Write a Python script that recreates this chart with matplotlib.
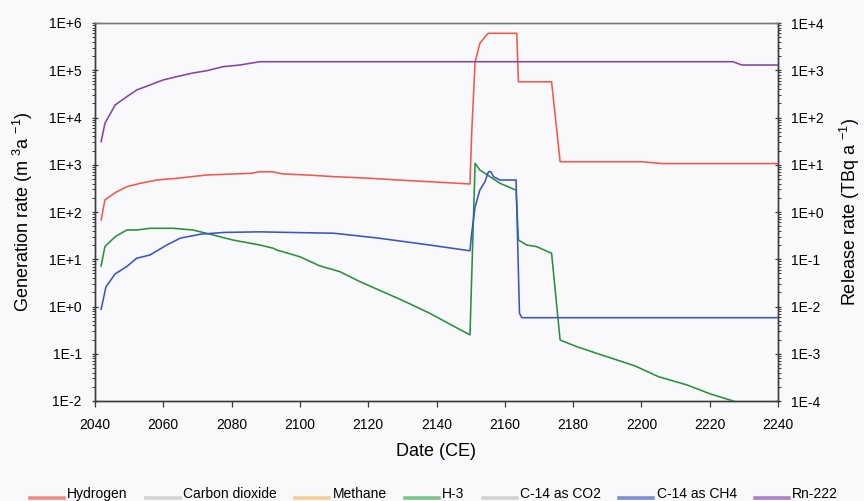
import matplotlib
matplotlib.use("Agg")
import matplotlib.pyplot as plt
from matplotlib.ticker import FixedLocator, FuncFormatter, LogLocator, NullFormatter
from matplotlib.lines import Line2D
from matplotlib.legend_handler import HandlerLine2D
import numpy as np

plt.rcParams['font.family'] = ['Liberation Sans', 'DejaVu Sans']
plt.rcParams['mathtext.fontset'] = 'custom'
plt.rcParams['mathtext.rm'] = 'Liberation Sans'
plt.rcParams['mathtext.it'] = 'Liberation Sans'
plt.rcParams['mathtext.bf'] = 'Liberation Sans'

# ---------------- data ----------------
# Hydrogen generation rate (m3/a)
h2_year = [2041.8, 2042.9, 2045.9, 2049.3, 2053.2, 2058.1, 2063.9, 2072.7, 2086.0, 2088.0,
           2092.0, 2095.0, 2102.0, 2110.0, 2120.0, 2130.0, 2138.0, 2149.8, 2150.3, 2151.3,
           2152.7, 2154.2, 2155.2, 2163.5, 2164.0, 2173.7, 2176.2, 2200.0, 2206.0, 2240.0]
h2_rate = [68, 180, 256, 343, 404, 475, 516, 607, 660, 710,
           710, 640, 607, 560, 520, 470, 437, 392, 4600, 1.5e5,
           3.7e5, 5.1e5, 6.05e5, 6.05e5, 5.7e4, 5.7e4, 1160, 1160, 1060, 1060]

# H-3 release rate (TBq/a)
h3_year = [2041.8, 2042.9, 2045.9, 2049.3, 2052.2, 2056.1, 2062.9, 2068.7, 2074.6, 2080.4,
           2088.3, 2092.2, 2093.2, 2100.0, 2105.9, 2111.7, 2117.6, 2130.0, 2138.0, 2149.8,
           2151.3, 2152.7, 2155.7, 2158.6, 2162.0, 2163.3, 2164.0, 2166.4, 2169.3, 2173.7,
           2176.2, 2181.1, 2186.9, 2192.8, 2198.2, 2205.0, 2213.3, 2220.2, 2226.9, 2230.0]
h3_rate = [0.072, 0.185, 0.30, 0.416, 0.416, 0.452, 0.452, 0.416, 0.326, 0.255,
           0.20, 0.171, 0.157, 0.113, 0.072, 0.0546, 0.0335, 0.0135, 0.0072, 0.0025,
           10.7, 7.74, 5.58, 4.05, 3.17, 2.92, 0.255, 0.20, 0.185, 0.134,
           0.00195, 0.00141, 0.00102, 0.00074, 0.00055, 0.000327, 0.000219, 0.000141, 0.0001, 0.00008]

# C-14 as CH4 release rate (TBq/a)
c14ch4_year = [2041.8, 2043.2, 2045.9, 2049.3, 2052.2, 2056.1, 2061.0, 2065.0, 2071.0, 2078.0,
               2088.0, 2110.0, 2123.0, 2138.0, 2149.8, 2150.3, 2151.3, 2152.7, 2154.2, 2155.2,
               2155.9, 2156.7, 2158.6, 2163.3, 2164.3, 2165.0, 2240.0]
c14ch4_rate = [0.0087, 0.026, 0.049, 0.070, 0.105, 0.123, 0.20, 0.28, 0.34, 0.37,
               0.38, 0.355, 0.28, 0.20, 0.151, 0.354, 1.29, 2.92, 4.38, 7.13,
               7.13, 5.58, 4.75, 4.75, 0.0072, 0.0058, 0.0058]

# Rn-222 release rate (TBq/a)
rn_year = [2041.8, 2042.9, 2045.9, 2049.3, 2052.2, 2056.1, 2059.9, 2063.9, 2068.7, 2072.7,
           2077.5, 2082.4, 2088.3, 2226.8, 2229.4, 2240.0]
rn_rate = [30.8, 75, 184, 275, 382, 488, 622, 731, 875, 977,
           1190, 1290, 1517, 1517, 1290, 1290]

legend_labels = ["Hydrogen", "Carbon dioxide", "Methane", "H-3", "C-14 as CO2", "C-14 as CH4", "Rn-222"]
line_colors = ["#f4574b", "#c8c8c8", "#f5b768", "#27913a", "#c8c8c8", "#3a55c4", "#8443a8"]
legend_colors = ["#f28a84", "#d4d4d4", "#f8cc98", "#7cc58a", "#d4d4d4", "#7d8fd6", "#ab82c8"]

left_ticks = [1e-2, 1e-1, 1e0, 1e1, 1e2, 1e3, 1e4, 1e5, 1e6]
right_ticks = [1e-4, 1e-3, 1e-2, 1e-1, 1e0, 1e1, 1e2, 1e3, 1e4]
x_ticks = list(range(2040, 2241, 20))

# ---------------- figure ----------------
bg = "#f9f9fc"
fig = plt.figure(figsize=(8.64, 5.01), dpi=100, facecolor=bg)
ax = fig.add_axes([95/864, 1-401/501, (778-95)/864, (401-23)/501])
ax.set_facecolor(bg)
ax2 = ax.twinx()

def efmt(v, pos=None):
    e = int(round(np.log10(v)))
    return "1E%s%d" % ("+" if e >= 0 else "-", abs(e))

lw = 1.15
ax.plot(h2_year, h2_rate, color=line_colors[0], lw=lw, zorder=3)
ax2.plot(h3_year, h3_rate, color=line_colors[3], lw=lw, zorder=3)
ax2.plot(c14ch4_year, c14ch4_rate, color=line_colors[5], lw=lw, zorder=3)
ax2.plot(rn_year, rn_rate, color=line_colors[6], lw=lw, zorder=3)

ax.set_xlim(2040, 2240)
ax.set_yscale('log')
ax.set_ylim(1e-2, 1e6)
ax2.set_yscale('log')
ax2.set_ylim(1e-4, 1e4)

ax.xaxis.set_major_locator(FixedLocator(x_ticks))
ax.yaxis.set_major_locator(FixedLocator(left_ticks))
ax.yaxis.set_major_formatter(FuncFormatter(efmt))
ax.yaxis.set_minor_locator(LogLocator(base=10, subs=np.arange(2, 10), numticks=20))
ax.yaxis.set_minor_formatter(NullFormatter())
ax2.yaxis.set_major_locator(FixedLocator(right_ticks))
ax2.yaxis.set_major_formatter(FuncFormatter(efmt))
ax2.yaxis.set_minor_locator(LogLocator(base=10, subs=np.arange(2, 10), numticks=20))
ax2.yaxis.set_minor_formatter(NullFormatter())

spine_col = "#3c3c3c"
for a in (ax, ax2):
    for s in ['left', 'right', 'bottom']:
        a.spines[s].set_color(spine_col)
        a.spines[s].set_linewidth(1.0)
    a.spines['top'].set_color("#7a7a7a")
    a.spines['top'].set_linewidth(1.0)

ax.tick_params(axis='y', which='major', direction='inout', length=5, width=0.9,
               color=spine_col, labelsize=10, pad=7)
ax.tick_params(axis='y', which='minor', direction='out', length=2.2, width=0.7, color=spine_col)
ax2.tick_params(axis='y', which='major', direction='inout', length=5, width=0.9,
                color=spine_col, labelsize=10, pad=7)
ax2.tick_params(axis='y', which='minor', direction='out', length=2.2, width=0.7, color=spine_col)
ax.tick_params(axis='x', which='major', direction='out', length=4, width=0.9,
               color=spine_col, labelsize=10, pad=8)

ax.set_xlabel("Date (CE)", fontsize=13, labelpad=8)
ax.set_ylabel(r"Generation rate (m $^{3}$a $^{-1}$)", fontsize=13, labelpad=10)
ax2.set_ylabel(r"Release rate (TBq a $^{-1}$)", fontsize=13, labelpad=10)

# ---------------- legend ----------------
class LowLine(HandlerLine2D):
    def create_artists(self, legend, orig_handle, xdescent, ydescent, width, height, fontsize, trans):
        arts = super().create_artists(legend, orig_handle, xdescent, ydescent, width, height, fontsize, trans)
        for a in arts:
            if isinstance(a, Line2D):
                yd = np.asarray(a.get_ydata(), dtype=float)
                a.set_ydata(yd - height * 0.55)
        return arts

handles = [Line2D([], [], color=c, lw=2.6) for c in legend_colors]
leg = fig.legend(handles, legend_labels, loc='center', bbox_to_anchor=(434/864, 1-494/501),
                 ncol=7, frameon=False, fontsize=10, handlelength=2.45, handletextpad=0.25,
                 columnspacing=1.3, borderpad=0, handler_map={Line2D: LowLine()})

fig.savefig("out.png", dpi=100, facecolor=bg)
